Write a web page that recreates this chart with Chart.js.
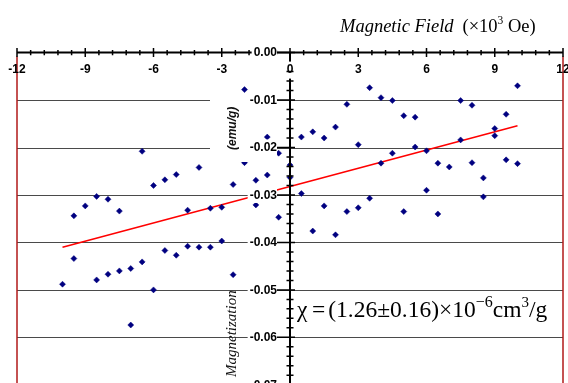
<!DOCTYPE html>
<html>
<head>
<meta charset="utf-8">
<script src="https://cdn.jsdelivr.net/npm/chart.js@4.4.1/dist/chart.umd.min.js"></script>
<style>
  html, body { margin: 0; padding: 0; background: #fff; overflow: hidden; }
  #wrap { position: absolute; left: 0; top: 0; width: 568px; height: 400px; }
</style>
</head>
<body>
<div id="wrap"><canvas id="chart" width="568" height="400"></canvas></div>
<script>
// field in kOe, magnetization in emu/g
const fieldKOe = [-10, -9.5, -9, -8.5, -8, -7.5, -7, -6.5, -6, -5.5, -5, -4.5, -4, -3.5, -3, -2.5, -2, -1.5, -1, -0.5,
    0, 0.5, 1, 1.5, 2, 2.5, 3, 3.5, 4, 4.5, 5, 5.5, 6, 6.5, 7, 7.5, 8, 8.5, 9, 9.5, 10];
const runA = [-0.0488, -0.0344, -0.0323, -0.0303, -0.0309, -0.0334, -0.0455, -0.0208, -0.0280, -0.0268, -0.0257,
    -0.0332, -0.0242, -0.0328, -0.0326, -0.0278, -0.0078, -0.0269, -0.0178, -0.0212,
    -0.0237, -0.0178, -0.0167, -0.0180, -0.0157, -0.0109, -0.0194, -0.0074, -0.0095, -0.0101,
    -0.0133, -0.0136, -0.0207, -0.0233, -0.0241, -0.0101, -0.0111, -0.0264, -0.0160, -0.0130, -0.0070];
const runB = [null, -0.0434, null, -0.0479, -0.0467, -0.0460, -0.0574, -0.0441, -0.0500, -0.0417, -0.0427,
    -0.0408, -0.0410, -0.0410, -0.0397, -0.0468, -0.0232, -0.0321, -0.0258, -0.0347,
    -0.0263, -0.0297, -0.0376, -0.0323, -0.0384, -0.0335, -0.0327, -0.0307, -0.0233, -0.0212,
    -0.0335, -0.0199, -0.0290, -0.0340, null, -0.0184, -0.0232, -0.0304, -0.0175, -0.0226, -0.0234];
const fitField = [-10, 10];
const fitMoment = [-0.0410, -0.0154];

const xTicks = [-12, -9, -6, -3, 0, 3, 6, 9, 12];
const yTicks = [0, -0.01, -0.02, -0.03, -0.04, -0.05, -0.06, -0.07];
const yTickLabels = ["0.00", "-0.01", "-0.02", "-0.03", "-0.04", "-0.05", "-0.06", "-0.07"];

const pts = (ys) => fieldKOe.map((x, i) => ({ x: x, y: ys[i] })).filter((p) => p.y !== null);

const SANS = '"Liberation Sans", Arial, sans-serif';
const SERIF = '"Liberation Serif", "Times New Roman", serif';

const gridPlugin = {
    id: "grid",
    beforeDatasetsDraw(chart) {
        const { ctx, chartArea, scales } = chart;
        ctx.save();
        ctx.strokeStyle = "#4a4a4a";
        ctx.lineWidth = 1.2;
        yTicks.slice(1).forEach((v) => {
            const y = Math.round(scales.y.getPixelForValue(v)) + 0.5;
            ctx.beginPath();
            ctx.moveTo(chartArea.left, y);
            ctx.lineTo(chartArea.right, y);
            ctx.stroke();
        });
        // red frame at the ends of the field range
        ctx.strokeStyle = "#b01818";
        ctx.lineWidth = 1.5;
        [chartArea.left, chartArea.right].forEach((x) => {
            ctx.beginPath();
            ctx.moveTo(x, scales.y.getPixelForValue(0) + 4);
            ctx.lineTo(x, chart.height);
            ctx.stroke();
        });
        ctx.restore();
    },
    afterDatasetsDraw(chart) {
        const { ctx, chartArea, scales } = chart;
        const xs = scales.x, ys = scales.y;
        const ax = xs.getPixelForValue(0);
        const ay = ys.getPixelForValue(0);
        ctx.save();

        // axis lines and x ticks
        ctx.strokeStyle = "#000";
        ctx.lineWidth = 2;
        ctx.beginPath();
        ctx.moveTo(chartArea.left, ay);
        ctx.lineTo(chartArea.right, ay);
        ctx.moveTo(ax, ay);
        ctx.lineTo(ax, chart.height);
        ctx.stroke();

        ctx.lineWidth = 1.5;
        ctx.beginPath();
        for (let v = -12; v <= 12.001; v += 0.6) {
            const x = xs.getPixelForValue(v);
            const major = Math.abs(v / 3 - Math.round(v / 3)) < 0.01;
            const h = major ? 4.5 : 2.7;
            ctx.moveTo(x, ay - h);
            ctx.lineTo(x, ay + h);
        }
        ctx.stroke();

        // white boxes behind the y title part and the labels
        ctx.fillStyle = "#fff";
        ctx.fillRect(210, 95, 40, 67);
        ctx.font = "bold 12px " + SANS;
        yTicks.forEach((v, i) => {
            const y = ys.getPixelForValue(v);
            const w = ctx.measureText(yTickLabels[i]).width;
            ctx.fillRect(ax - 14 - w - 1, y - 8, w + 2, 16);
        });
        ctx.fillRect(ax - 5, ay + 9, 10, 17);

        // y ticks
        ctx.beginPath();
        for (let v = 0; v >= -0.0701; v -= 0.002) {
            const y = ys.getPixelForValue(v);
            const major = Math.abs(v / 0.01 - Math.round(v / 0.01)) < 0.01;
            if (major) {
                ctx.moveTo(ax - 13, y);
                ctx.lineTo(ax + 5, y);
            } else if (y > ay + 14) {
                ctx.moveTo(ax - 3.5, y);
                ctx.lineTo(ax + 3.5, y);
            }
        }
        ctx.stroke();

        // y axis title
        ctx.fillStyle = "#111";
        ctx.save();
        ctx.translate(236, 377);
        ctx.rotate(-Math.PI / 2);
        ctx.font = "italic 15px " + SERIF;
        ctx.textAlign = "left";
        ctx.textBaseline = "alphabetic";
        ctx.fillText("Magnetization", 0, 0);
        ctx.font = "bold italic 12px " + SANS;
        ctx.fillText("(emu/g)", 377 - 150, 0);
        ctx.restore();

        // tick labels
        ctx.fillStyle = "#000";
        ctx.font = "bold 12px " + SANS;
        ctx.textAlign = "center";
        ctx.textBaseline = "middle";
        xTicks.forEach((v) => ctx.fillText(String(v), xs.getPixelForValue(v), ay + 17));
        ctx.textAlign = "right";
        yTicks.forEach((v, i) => ctx.fillText(yTickLabels[i], ax - 13, ys.getPixelForValue(v) + 0.5));

        // x axis title
        ctx.textAlign = "left";
        ctx.textBaseline = "alphabetic";
        let tx = 340;
        const put = (t, font, dy) => {
            ctx.font = font;
            ctx.fillText(t, tx, 31.5 + (dy || 0));
            tx += ctx.measureText(t).width;
        };
        put("Magnetic Field", "italic 18.5px " + SERIF);
        tx += 9;
        put("(\u00d710", "18.5px " + SERIF);
        put("3", "11.5px " + SERIF, -8);
        put(" Oe)", "18.5px " + SERIF);

        // susceptibility note
        tx = 297;
        const base = 317;
        const put2 = (t, font, dy) => {
            ctx.font = font;
            ctx.fillText(t, tx, base + (dy || 0));
            tx += ctx.measureText(t).width;
        };
        put2("\u03c7", "23.5px " + SERIF);
        tx += 4.5;
        put2("=", "23.5px " + SERIF);
        tx += 3;
        put2("(1.26\u00b10.16)\u00d710", "23.5px " + SERIF);
        put2("\u22126", "16px " + SERIF, -10);
        put2("cm", "23.5px " + SERIF);
        put2("3", "15px " + SERIF, -10);
        put2("/g", "23.5px " + SERIF);

        ctx.restore();
    },
};

new Chart(document.getElementById("chart"), {
    type: "scatter",
    data: {
        datasets: [
            {
                label: "sweep A",
                data: pts(runA),
                pointStyle: "rectRot",
                pointRadius: 3,
                backgroundColor: "#000080",
                borderColor: "#000080",
                borderWidth: 0.5,
            },
            {
                label: "sweep B",
                data: pts(runB),
                pointStyle: "rectRot",
                pointRadius: 3,
                backgroundColor: "#000080",
                borderColor: "#000080",
                borderWidth: 0.5,
            },
            {
                type: "line",
                label: "fit",
                data: fitField.map((x, i) => ({ x: x, y: fitMoment[i] })),
                borderColor: "#ff0000",
                borderWidth: 1.6,
                pointRadius: 0,
                fill: false,
            },
        ],
    },
    options: {
        responsive: false,
        animation: false,
        devicePixelRatio: 1,
        layout: { padding: { left: 17, right: 5, top: 52.6, bottom: 15.2 } },
        plugins: { legend: { display: false }, tooltip: { enabled: false } },
        scales: {
            x: { type: "linear", min: -12, max: 12, display: false },
            y: { type: "linear", min: -0.07, max: 0, display: false },
        },
    },
    plugins: [gridPlugin],
});
</script>
</body>
</html>
